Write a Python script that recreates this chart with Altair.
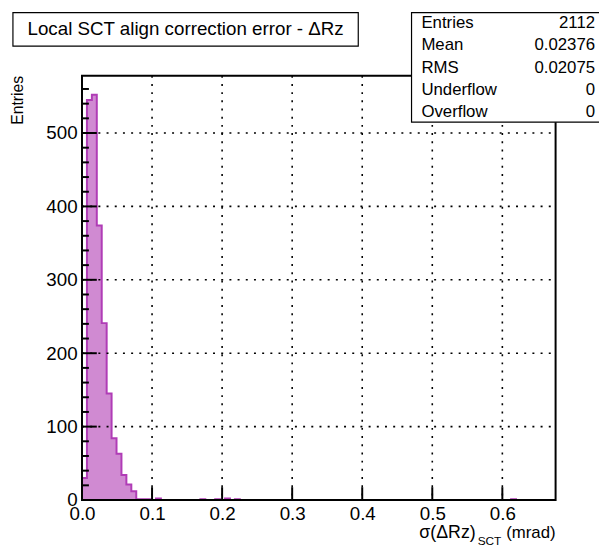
import altair as alt
import pandas as pd

# ---------------- data ----------------
BIN_WIDTH = 0.00704
N_BINS = 96
X_MAX = 0.676
Y_MAX = 578

# non-empty bins (bin index -> entries)
bin_index = [0, 1, 2, 3, 4, 5, 6, 7, 8, 9, 10, 11, 12, 13, 15, 24, 27, 29, 31, 87]
bin_count = [30, 545, 552, 374, 241, 145, 84, 63, 34, 21, 12, 1, 1, 1, 2, 1, 1, 2, 1, 1]

x_tick_values = [0.0, 0.1, 0.2, 0.3, 0.4, 0.5, 0.6]
x_grid_values = [0.1, 0.2, 0.3, 0.4, 0.5, 0.6]
y_tick_values = [0, 100, 200, 300, 400, 500]
y_grid_values = [100, 200, 300, 400, 500]
y_minor_values = [20, 40, 60, 80, 120, 140, 160, 180, 220, 240, 260, 280,
                  320, 340, 360, 380, 420, 440, 460, 480, 520, 540, 560]

title_text = "Local SCT align correction error - \u0394Rz"
stat_labels = ["Entries", "Mean", "RMS", "Underflow", "Overflow"]
stat_values = ["2112", "0.02376", "0.02075", "0", "0"]
y_title = "Entries"
x_title_main = "\u03c3(\u0394Rz)"
x_title_sub = "SCT"
x_title_unit = "(mrad)"

# ---------------- build tables ----------------
counts = [0] * N_BINS
for i, c in zip(bin_index, bin_count):
    counts[i] = c
step_df = pd.DataFrame({
    "x": [i * BIN_WIDTH for i in range(N_BINS)] + [N_BINS * BIN_WIDTH],
    "y": counts + [0],
})

FONT = "Liberation Sans"
FILL = "#d08ad2"
STROKE = "#b03cb6"
W, H = 480, 430

xs = alt.Scale(domain=[0, X_MAX], nice=False, zero=False)
ys = alt.Scale(domain=[0, Y_MAX], nice=False, zero=False)

x_axis = alt.Axis(values=x_tick_values, format=".1f", title=None, grid=False,
                  domain=False, ticks=False, tickSize=0, labelPadding=5,
                  labelFlush=False, labelFont=FONT, labelFontSize=19,
                  labelColor="black", labelOverlap=False)
y_axis = alt.Axis(values=y_tick_values, format="d", title=None, grid=False,
                  domain=False, ticks=False, tickSize=0, labelPadding=5,
                  labelFlush=False, labelFont=FONT, labelFontSize=19,
                  labelColor="black", labelOverlap=False)


def X(field):
    return alt.X(field, scale=xs, axis=x_axis, title=None)


def Y(field):
    return alt.Y(field, scale=ys, axis=y_axis, title=None)


area = alt.Chart(step_df).mark_area(
    interpolate="step-after", fill=FILL, opacity=1
).encode(x=X("x:Q"), y=Y("y:Q"))

line = alt.Chart(step_df).mark_line(
    interpolate="step-after", stroke=STROKE, strokeWidth=2
).encode(x=X("x:Q"), y=Y("y:Q"))

DASH = [2, 6.3]
xgrid = alt.Chart(pd.DataFrame({"v": x_grid_values})).mark_rule(
    color="black", strokeWidth=1.6, strokeDash=DASH
).encode(x=X("v:Q"), y=alt.value(0), y2=alt.value(H))

ygrid = alt.Chart(pd.DataFrame({"v": y_grid_values})).mark_rule(
    color="black", strokeWidth=1.6, strokeDash=DASH
).encode(y=Y("v:Q"), x=alt.value(0), x2=alt.value(W))

xticks = alt.Chart(pd.DataFrame({"v": x_grid_values})).mark_rule(
    color="black", strokeWidth=2
).encode(x=X("v:Q"), y=alt.value(H), y2=alt.value(H - 13))

yticks = alt.Chart(pd.DataFrame({"v": y_grid_values})).mark_rule(
    color="black", strokeWidth=2
).encode(y=Y("v:Q"), x=alt.value(0), x2=alt.value(15))

yminor = alt.Chart(pd.DataFrame({"v": y_minor_values})).mark_rule(
    color="black", strokeWidth=2
).encode(y=Y("v:Q"), x=alt.value(0), x2=alt.value(7))

one = pd.DataFrame({"k": [0]})

frame = alt.Chart(one).mark_rect(
    filled=False, stroke="black", strokeWidth=2
).encode(x=alt.value(0), x2=alt.value(W), y=alt.value(0), y2=alt.value(H))

title_box = alt.Chart(one).mark_rect(
    fill="white", stroke="black", strokeWidth=1.2
).encode(x=alt.value(-70), x2=alt.value(280), y=alt.value(-64), y2=alt.value(-30))

title_txt = alt.Chart(one).mark_text(
    text=title_text, font=FONT, fontSize=19, align="center", baseline="middle",
    color="black"
).encode(x=alt.value(105), y=alt.value(-47))

stats_box = alt.Chart(one).mark_rect(
    fill="white", stroke="black", strokeWidth=1.2
).encode(x=alt.value(334), x2=alt.value(540), y=alt.value(-64), y2=alt.value(47))

stat_layers = []
stat_rows_y = [-53, -31, -8, 15, 37]
for lab, val, yy in zip(stat_labels, stat_values, stat_rows_y):
    stat_layers.append(alt.Chart(one).mark_text(
        text=lab, font=FONT, fontSize=17, align="left", baseline="middle", color="black"
    ).encode(x=alt.value(344), y=alt.value(yy)))
    stat_layers.append(alt.Chart(one).mark_text(
        text=val, font=FONT, fontSize=17, align="right", baseline="middle", color="black"
    ).encode(x=alt.value(520), y=alt.value(yy)))

ytitle = alt.Chart(one).mark_text(
    text=y_title, font=FONT, fontSize=16, angle=270, align="right",
    baseline="middle", color="black"
).encode(x=alt.value(-65), y=alt.value(0))

xt1 = alt.Chart(one).mark_text(
    text=x_title_main, font=FONT, fontSize=18, align="right", baseline="middle",
    color="black"
).encode(x=alt.value(399), y=alt.value(464))
xt2 = alt.Chart(one).mark_text(
    text=x_title_sub, font=FONT, fontSize=12, align="left", baseline="middle",
    color="black"
).encode(x=alt.value(401), y=alt.value(472))
xt3 = alt.Chart(one).mark_text(
    text=x_title_unit, font=FONT, fontSize=17, align="right", baseline="middle",
    color="black"
).encode(x=alt.value(480), y=alt.value(464))

chart = alt.layer(
    area, line, xgrid, ygrid, xticks, yticks, yminor, frame,
    title_box, title_txt, stats_box, *stat_layers, ytitle, xt1, xt2, xt3
).properties(
    width=W, height=H,
    autosize=alt.AutoSizeParams(type="none"),
    padding={"left": 75, "top": 65, "right": 44, "bottom": 48},
    background="white",
).configure_view(stroke=None)

chart.save("out.html", embed_options={"renderer": "svg", "actions": False})
